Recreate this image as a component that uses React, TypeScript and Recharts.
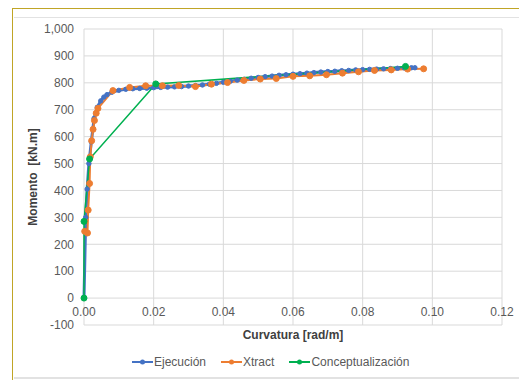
import { CartesianGrid, Line, LineChart, XAxis, YAxis } from 'recharts'

// Ejecución: curvature [rad/m] and moment [kN.m]
const ejecucionX = [
  0, 0.0005, 0.0009, 0.0014, 0.0021, 0.0029, 0.0038, 0.0048, 0.0057, 0.0066, 0.008,
  0.01, 0.012, 0.014, 0.016, 0.018, 0.02, 0.022, 0.024, 0.026, 0.028, 0.03, 0.032,
  0.034, 0.036, 0.038, 0.04, 0.042, 0.044, 0.046, 0.048, 0.05, 0.052, 0.054, 0.056,
  0.058, 0.06, 0.062, 0.064, 0.066, 0.068, 0.07, 0.072, 0.074, 0.076, 0.078, 0.08,
  0.082, 0.084, 0.086, 0.088, 0.09, 0.092, 0.094, 0.095,
]
const ejecucionY = [
  0, 300, 405, 500, 581, 668, 709, 733, 747, 756, 765,
  772, 776, 778, 779, 780, 782, 783, 784, 785, 786, 788, 790,
  792, 795, 798, 802, 806, 810, 813, 817, 820, 823, 825, 828,
  830, 832, 834, 836, 838, 840, 842, 843, 845, 846, 848, 849,
  850, 851, 852, 853, 854, 855, 856, 856,
]

const xtractX = [
  0.0002, 0.001, 0.0012, 0.0016, 0.0018, 0.0022, 0.0026, 0.003, 0.0035, 0.004,
  0.0083, 0.0131, 0.0177, 0.0225, 0.0272, 0.032, 0.0366, 0.0412, 0.0459, 0.0506,
  0.0552, 0.06, 0.0648, 0.0696, 0.0742, 0.0788, 0.0834, 0.0882, 0.0929, 0.0975,
]
const xtractY = [
  248, 242, 327, 426, 525, 585, 627, 660, 687, 705,
  771, 783, 789, 789, 790, 786, 795, 801, 809, 814,
  816, 824, 826, 830, 836, 841, 846, 848, 851, 852,
]

const conceptX = [0, 0, 0.0016, 0.0206, 0.0923]
const conceptY = [0, 285, 517, 796, 861]

const xTicks = [0, 0.02, 0.04, 0.06, 0.08, 0.1, 0.12]
const yTicks = [-100, 0, 100, 200, 300, 400, 500, 600, 700, 800, 900, 1000]

const toPoints = (xs: number[], ys: number[]) => xs.map((x, i) => ({ x, y: ys[i] }))

const series = [
  { name: 'Ejecución', color: '#4472C4', data: toPoints(ejecucionX, ejecucionY), width: 3, r: 2.2 },
  { name: 'Xtract', color: '#ED7D31', data: toPoints(xtractX, xtractY), width: 2, r: 3 },
  { name: 'Conceptualización', color: '#00B050', data: toPoints(conceptX, conceptY), width: 1.5, r: 3 },
]

const font = '"Liberation Sans", Arial, sans-serif'

function XTick(props: any) {
  const { x, y, payload } = props
  return (
    <text x={x} y={y - 9} textAnchor="middle" fill="#595959" fontSize={12} fontFamily={font}>
      {Number(payload.value).toFixed(2)}
    </text>
  )
}

export default function App() {
  return (
    <div style={{ position: 'absolute', left: 0, top: 0, width: 519, height: 380, background: '#fff', overflow: 'hidden' }}>
      <div style={{ position: 'absolute', left: 12, top: 8, width: 520, height: 380, borderLeft: '1.5px solid #C0A526', borderTop: '1.5px solid #C0A526' }} />
      <div style={{ position: 'absolute', left: 14, top: 17, width: 505, height: 1, background: '#E2E2E2' }} />
      <div style={{ position: 'absolute', left: 14, top: 377, width: 505, height: 2, background: '#E2E2E2' }} />
      <div style={{ position: 'absolute', left: 0, top: 0 }}>
        <LineChart width={519} height={380} margin={{ top: 29, right: 17, left: 24, bottom: 25 }}>
          <CartesianGrid stroke="#D9D9D9" strokeWidth={1} horizontalValues={yTicks} verticalValues={xTicks} />
          <XAxis
            dataKey="x"
            type="number"
            domain={[0, 0.12]}
            ticks={xTicks}
            allowDuplicatedCategory={false}
            axisLine={false}
            tickLine={false}
            tickSize={0}
            tickMargin={0}
            height={30}
            tick={<XTick />}
            interval={0}
            label={{ value: 'Curvatura [rad/m]', position: 'insideBottom', offset: 16, fill: '#404040', fontSize: 12, fontWeight: 700, fontFamily: font }}
          />
          <YAxis
            type="number"
            domain={[-100, 1000]}
            ticks={yTicks}
            width={60}
            axisLine={false}
            tickLine={false}
            tickSize={0}
            tickMargin={10}
            interval={0}
            tick={{ fill: '#595959', fontSize: 12, fontFamily: font }}
            tickFormatter={(v: number) => v.toLocaleString('en-US')}
            label={{ value: 'Momento\u00a0\u00a0[kN.m]', angle: -90, position: 'insideLeft', offset: 9, fill: '#404040', fontSize: 12, fontWeight: 700, fontFamily: font, style: { textAnchor: 'middle' } }}
          />
          {series.map((s) => (
            <Line
              key={s.name}
              data={s.data}
              dataKey="y"
              name={s.name}
              type="linear"
              stroke={s.color}
              strokeWidth={s.width}
              dot={{ r: s.r, fill: s.color, stroke: s.color, strokeWidth: 1 }}
              isAnimationActive={false}
            />
          ))}
        </LineChart>
      </div>
      <div style={{ position: 'absolute', left: 132, top: 355, display: 'flex', alignItems: 'center', fontFamily: font, fontSize: 12, color: '#595959' }}>
        {series.map((s, i) => (
          <div key={s.name} style={{ display: 'flex', alignItems: 'center', marginLeft: i === 0 ? 0 : 15 }}>
            <svg width={21} height={14}>
              <line x1={0} y1={7} x2={21} y2={7} stroke={s.color} strokeWidth={2} />
              <circle cx={10.5} cy={7} r={2.5} fill={s.color} />
            </svg>
            <span style={{ marginLeft: 1 }}>{s.name}</span>
          </div>
        ))}
      </div>
    </div>
  )
}
